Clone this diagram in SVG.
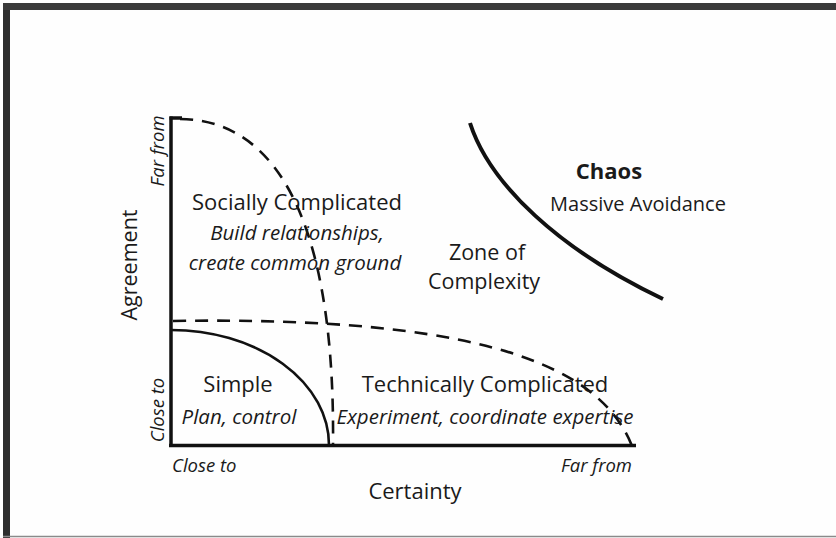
<svg xmlns="http://www.w3.org/2000/svg" width="836" height="538" viewBox="0 0 836 538">
  <style>
    .lbl { font-family: "Open Sans", "Noto Sans", "Liberation Sans", sans-serif; fill: #1a1a1a; }
    .big { font-size: 22px; }
    .it { font-size: 20.5px; font-style: italic; }
    .ax { font-size: 18.5px; font-style: italic; }
    .bold { font-weight: bold; }
    .axis { stroke: #111; stroke-width: 3.5; fill: none; stroke-linecap: butt; }
    .dash { stroke: #111; stroke-width: 2.6; fill: none; stroke-dasharray: 13 9; }
    .solid { stroke: #111; stroke-width: 2.6; fill: none; }
    .thick { stroke: #111; stroke-width: 4; fill: none; }
  </style>

  <!-- page and frame -->
  <rect x="0" y="0" width="836" height="538" fill="#fefefe"/>
  <rect x="3" y="3" width="7" height="535" fill="#2e2e2e"/>
  <rect x="3" y="3" width="833" height="7" fill="#3a3a3a"/>
  <line x1="3" y1="536.5" x2="836" y2="536.5" stroke="#8a8a8a" stroke-width="1.5"/>

  <!-- axes and boundary curves -->
  <g id="connectors">
    <line class="axis" x1="171" y1="116.5" x2="171" y2="447"/>
    <line class="axis" x1="169" y1="445.5" x2="636" y2="445.5"/>
    <line class="axis" x1="169.5" y1="118" x2="182" y2="118"/>
    <!-- social boundary (dashed) -->
    <path class="dash" d="M180,119 C290,120 335,250 333,445"/>
    <!-- technical boundary (dashed) -->
    <path class="dash" d="M173,321 C480,316 600,365 632,446"/>
    <!-- simple boundary -->
    <path class="solid" d="M171,330 A158,115 0 0 1 329,445"/>
    <!-- edge of chaos -->
    <path class="thick" d="M470,123 C490,185 560,250 663,299"/>
  </g>

  <g id="axis-agreement">
    <text class="lbl" font-size="21.5" transform="translate(137,265) rotate(-90)" text-anchor="middle">Agreement</text>
    <text class="lbl ax" transform="translate(164,151) rotate(-90)" text-anchor="middle">Far from</text>
    <text class="lbl ax" transform="translate(164,410) rotate(-90)" text-anchor="middle">Close to</text>
  </g>

  <g id="axis-certainty">
    <text class="lbl" font-size="22" x="415" y="499" text-anchor="middle">Certainty</text>
    <text class="lbl ax" font-size="19.5" x="172" y="472">Close to</text>
    <text class="lbl ax" font-size="19.5" x="632" y="472" text-anchor="end">Far from</text>
  </g>

  <g id="socially-complicated">
    <text class="lbl big" x="297" y="210" text-anchor="middle">Socially Complicated</text>
    <text class="lbl it" x="297" y="240" text-anchor="middle">Build relationships,</text>
    <text class="lbl it" x="295" y="270" text-anchor="middle">create common ground</text>
  </g>

  <g id="zone-of-complexity">
    <text class="lbl" font-size="21.5" x="487" y="260" text-anchor="middle">Zone of</text>
    <text class="lbl" font-size="21.5" x="484" y="289" text-anchor="middle">Complexity</text>
  </g>

  <g id="chaos">
    <text class="lbl big bold" x="609" y="179" text-anchor="middle">Chaos</text>
    <text class="lbl" font-size="20" x="638" y="211" text-anchor="middle">Massive Avoidance</text>
  </g>

  <g id="simple">
    <text class="lbl big" x="238" y="392" text-anchor="middle">Simple</text>
    <text class="lbl it" x="239" y="424" text-anchor="middle">Plan, control</text>
  </g>

  <g id="technically-complicated">
    <text class="lbl big" x="485" y="392" text-anchor="middle">Technically Complicated</text>
    <text class="lbl it" x="485" y="424" text-anchor="middle">Experiment, coordinate expertise</text>
  </g>
</svg>
